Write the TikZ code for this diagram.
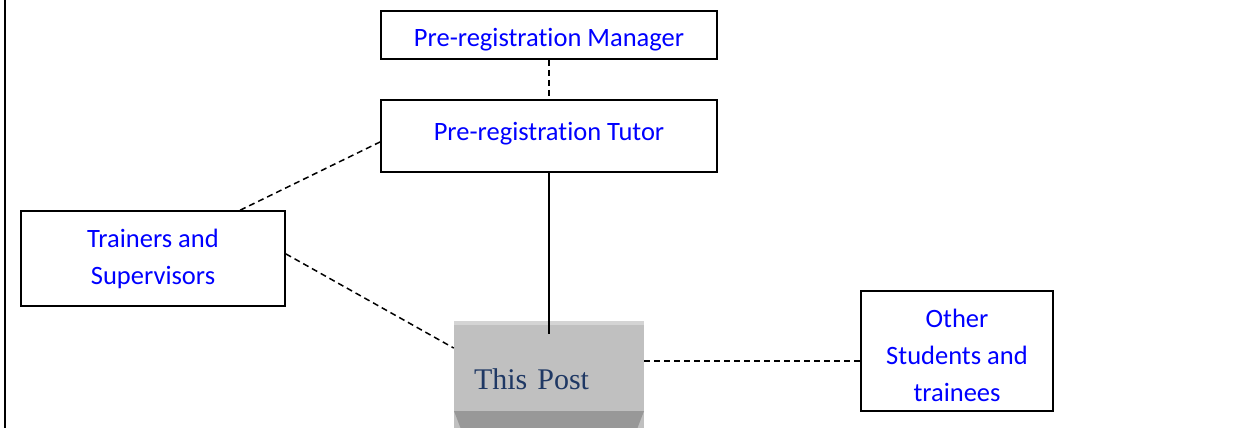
\documentclass[tikz,border=0pt]{standalone}
\usepackage{fontspec}
\setmainfont{Carlito}[Ligatures=NoCommon]
\newfontfamily\postfont{Liberation Serif}
\usepackage{xcolor}
\usetikzlibrary{positioning}
\definecolor{postgray}{RGB}{192,192,192}
\definecolor{postlight}{RGB}{212,212,212}
\definecolor{postdark}{RGB}{152,152,152}
\definecolor{posttext}{RGB}{31,56,100}
% text block that sits a little off the box centre
\newcommand\nudged[2]{\raisebox{#1}[\height][\depth]{\begin{tabular}{@{}c@{}}#2\end{tabular}}}

\begin{document}
\begin{tikzpicture}[x=1pt,y=-1pt,
  every node/.style={font=\fontsize{26.5}{37}\selectfont},
  role/.style={draw,line width=1.6pt,text=blue,align=center,inner sep=0pt},
  link/.style={line width=1.5pt,dash pattern=on 6pt off 4pt},
  postbox/.style={fill=postgray,text=posttext,font=\postfont\fontsize{30}{36}\selectfont,
    text width=150pt,align=left,inner xsep=20pt,inner ysep=0pt,minimum height=116pt,
    path picture={
      \fill[postlight] (path picture bounding box.north west) rectangle ([yshift=-4pt]path picture bounding box.north east);
      \fill[postdark] ([yshift=26pt]path picture bounding box.south west) -- ([yshift=26pt]path picture bounding box.south east)
        -- ([xshift=-10pt]path picture bounding box.south east) -- ([xshift=10pt]path picture bounding box.south west) -- cycle;
    }}
]
  \useasboundingbox (0,0) rectangle (1239,428);
  \draw[line width=1.6pt] (5,0) -- (5,428);

  \node[role,minimum width=336pt,minimum height=48pt] (mgr) at (549,35) {\nudged{-4pt}{Pre-registration Manager}};
  \node[role,minimum width=336pt,minimum height=72pt] (tut) at (549,136) {\nudged{3pt}{Pre-registration Tutor}};
  \node[role,minimum width=264pt,minimum height=95pt] (trn) at (153,258.5) {Trainers and\\Supervisors};
  \node[role,minimum width=192pt,minimum height=120pt] (oth) at (957,351) {\nudged{-6pt}{Other\\Students and\\trainees}};
  \node[postbox] (post) at (549,379) {This Post};

  \draw[line width=1.5pt] (tut.south) -- ([yshift=-13pt]post.north);
  \foreach \a/\b in {mgr/tut,trn.29.5/tut.182,trn.2/post.162} \draw[link] (\a) -- (\b);
  \draw[link] (post.east |- oth.186) -- (oth.186);
\end{tikzpicture}
\end{document}
